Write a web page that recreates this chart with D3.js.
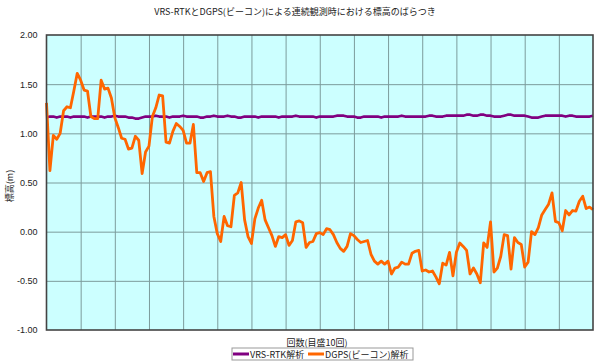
<!DOCTYPE html>
<html>
<head>
<meta charset="utf-8">
<script src="https://cdn.jsdelivr.net/npm/d3@7"></script>
<style>
  body { margin: 0; background: #fff; }
  text { font-family: "Noto Sans CJK JP", "Liberation Sans", sans-serif; fill: #222; }
  .tick text { font-family: "Liberation Sans", Arial, sans-serif; }
</style>
</head>
<body>
<div id="chart"></div>
<script>
const title = 'VRS-RTKとDGPS(ビーコン)による連続観測時における標高のばらつき';
const xLabel = '回数(目盛10回)';
const yLabel = '標高(m)';
const seriesNames = ['VRS-RTK解析', 'DGPS(ビーコン)解析'];
const yTicks = [-1, -0.5, 0, 0.5, 1, 1.5, 2];

// VRS-RTK solution, one value per observation
const rtk = [
  1.16,1.17,1.17,1.16,1.17,1.17,1.17,1.16,1.17,1.17,
  1.17,1.17,1.16,1.17,1.17,1.17,1.17,1.16,1.17,1.17,
  1.18,1.17,1.17,1.17,1.16,1.16,1.15,1.15,1.16,1.17,
  1.17,1.17,1.18,1.17,1.17,1.17,1.16,1.17,1.17,1.17,
  1.18,1.17,1.17,1.17,1.17,1.16,1.16,1.17,1.17,1.18,
  1.17,1.17,1.17,1.18,1.17,1.17,1.16,1.16,1.17,1.17,
  1.17,1.17,1.16,1.17,1.17,1.17,1.17,1.17,1.16,1.17,
  1.17,1.17,1.17,1.18,1.17,1.17,1.17,1.17,1.17,1.16,
  1.17,1.17,1.17,1.17,1.17,1.18,1.18,1.18,1.17,1.17,
  1.17,1.16,1.16,1.17,1.17,1.17,1.17,1.17,1.16,1.17,
  1.17,1.17,1.17,1.17,1.18,1.17,1.17,1.17,1.17,1.17,
  1.17,1.17,1.18,1.18,1.17,1.17,1.17,1.18,1.18,1.18,
  1.18,1.18,1.18,1.19,1.19,1.18,1.18,1.19,1.19,1.18,
  1.18,1.17,1.17,1.17,1.18,1.19,1.19,1.18,1.18,1.18,
  1.18,1.17,1.16,1.16,1.16,1.17,1.18,1.18,1.18,1.18,
  1.18,1.18,1.17,1.18,1.18,1.17,1.17,1.17,1.17,1.17,
  1.18
];

// DGPS (beacon) solution
const dgps = [
  1.31,0.62,0.98,0.94,1.00,1.23,1.27,1.26,1.43,1.61,
  1.54,1.44,1.43,1.17,1.15,1.15,1.54,1.45,1.46,1.36,
  1.16,1.06,0.95,0.94,0.84,0.85,0.97,0.93,0.59,0.81,
  0.87,1.17,1.26,1.39,1.38,0.91,0.90,1.02,1.10,1.07,
  1.03,0.90,0.90,1.09,0.60,0.60,0.51,0.60,0.61,0.155,
  -0.02,-0.10,0.155,0.06,0.05,0.37,0.395,0.50,0.12,-0.05,
  -0.12,0.13,0.24,0.32,0.12,0.04,-0.04,-0.15,-0.05,-0.06,
  -0.03,-0.14,-0.09,0.10,0.11,0.09,-0.16,-0.11,-0.10,-0.02,
  -0.01,-0.03,0.03,0.02,-0.03,-0.11,-0.17,-0.20,-0.15,-0.02,
  -0.04,-0.08,-0.11,-0.10,-0.09,-0.23,-0.30,-0.33,-0.30,-0.33,
  -0.30,-0.43,-0.37,-0.36,-0.31,-0.33,-0.33,-0.22,-0.20,-0.19,
  -0.40,-0.39,-0.41,-0.40,-0.46,-0.53,-0.32,-0.34,-0.21,-0.45,
  -0.21,-0.115,-0.15,-0.19,-0.43,-0.37,-0.43,-0.52,-0.115,-0.16,
  0.10,-0.41,-0.37,-0.25,-0.03,-0.04,-0.38,-0.06,-0.11,-0.13,
  -0.36,-0.31,0.00,-0.03,0.04,0.17,0.225,0.28,0.395,0.105,
  0.09,0.01,0.215,0.17,0.215,0.21,0.31,0.36,0.235,0.25,
  0.225
];

const colors = ['#800080', '#ff6600'];

const width = 600, height = 364;
const margin = { top: 35, right: 7, bottom: 34, left: 46.5 };
const w = width - margin.left - margin.right;
const h = height - margin.top - margin.bottom;

const svg = d3.select('#chart').append('svg')
  .attr('width', width)
  .attr('height', height);

svg.append('text')
  .attr('x', 295).attr('y', 14.5)
  .attr('text-anchor', 'middle')
  .style('font-size', '9px')
  .text(title);

const g = svg.append('g')
  .attr('transform', `translate(${margin.left},${margin.top})`);

const x = d3.scaleLinear().domain([0, dgps.length - 1]).range([0, w]);
const y = d3.scaleLinear().domain([-1, 2]).range([h, 0]);

g.append('rect')
  .attr('width', w).attr('height', h)
  .attr('fill', '#ccffff');

// grid
const xGridTicks = d3.range(10, dgps.length - 1, 10);
g.append('g')
  .attr('class', 'grid')
  .attr('transform', `translate(0,${h})`)
  .call(d3.axisBottom(x).tickValues(xGridTicks).tickSize(-h).tickFormat(''))
  .call(s => s.select('.domain').remove())
  .call(s => s.selectAll('line').attr('stroke', '#7c9c9c'));

g.append('g')
  .attr('class', 'grid')
  .call(d3.axisLeft(y).tickValues(yTicks.slice(1, -1)).tickSize(-w).tickFormat(''))
  .call(s => s.select('.domain').remove())
  .call(s => s.selectAll('line').attr('stroke', '#7c9c9c'));

// y axis labels
g.append('g')
  .call(d3.axisLeft(y).tickValues(yTicks).tickSize(0).tickPadding(9)
    .tickFormat(d => d.toFixed(2)))
  .call(s => s.select('.domain').remove())
  .call(s => s.selectAll('text').style('font-size', '9px').attr('fill', '#222'));

const line = d3.line()
  .x((d, i) => x(i))
  .y(d => y(d));

[rtk, dgps].forEach((series, k) => {
  g.append('path')
    .datum(series)
    .attr('fill', 'none')
    .attr('stroke', colors[k])
    .attr('stroke-width', k === 0 ? 2.6 : 2.8)
    .attr('stroke-linejoin', 'round')
    .attr('d', line);
});

g.append('rect')
  .attr('width', w).attr('height', h)
  .attr('fill', 'none')
  .attr('stroke', '#444')
  .attr('stroke-width', 1.6);

// axis titles
svg.append('text')
  .attr('transform', 'translate(13,186) rotate(-90)')
  .attr('text-anchor', 'middle')
  .style('font-size', '9px')
  .text(yLabel);

svg.append('text')
  .attr('x', 317).attr('y', 346)
  .attr('text-anchor', 'middle')
  .style('font-size', '9px')
  .text(xLabel);

// legend
const legend = svg.append('g').attr('transform', 'translate(232,348)');
legend.append('rect')
  .attr('width', 181).attr('height', 12)
  .attr('fill', '#fff')
  .attr('stroke', '#999');

const legendX = [1, 76];
seriesNames.forEach((name, k) => {
  legend.append('line')
    .attr('x1', legendX[k]).attr('x2', legendX[k] + 16)
    .attr('y1', 6).attr('y2', 6)
    .attr('stroke', colors[k])
    .attr('stroke-width', 3);
  legend.append('text')
    .attr('x', legendX[k] + 17).attr('y', 9.5)
    .style('font-size', '9px')
    .text(name);
});
</script>
</body>
</html>
